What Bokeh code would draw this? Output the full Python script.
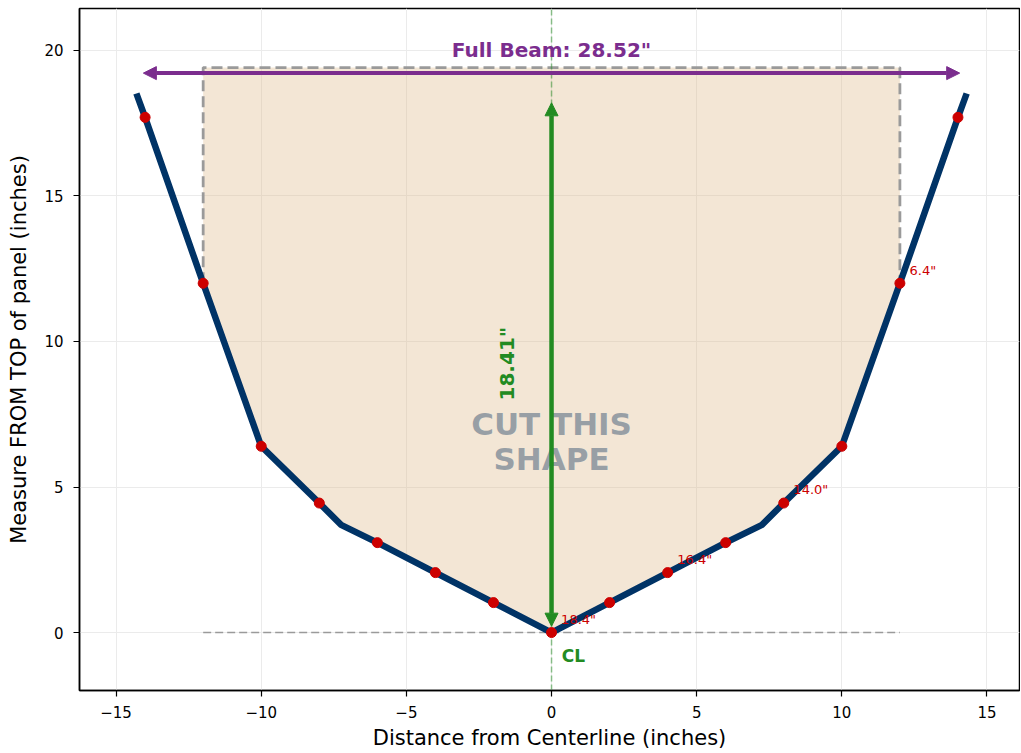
from bokeh.plotting import figure
from bokeh.models import Range1d, Arrow, NormalHead, FixedTicker
from bokeh.core.properties import value
from bokeh.embed import file_html
from bokeh.resources import INLINE

# ---------------- data ----------------
# hull profile (right half), inches: distance from centerline vs height from keel
hull_x = [0.0, 2.0, 4.0, 6.0, 7.25, 8.0, 10.0, 12.0, 14.0, 14.3]
hull_y = [0.0, 1.03, 2.06, 3.09, 3.70, 4.45, 6.40, 12.0, 17.70, 18.52]

# measurement stations (red dots, right half)
station_x = [0.0, 2.0, 4.0, 6.0, 8.0, 10.0, 12.0, 14.0]
station_y = [0.0, 1.03, 2.06, 3.09, 4.45, 6.40, 12.0, 17.70]

# labelled stations: "measure from top of panel"
label_x = [0.0, 4.0, 8.0, 12.0]
label_y = [0.0, 2.06, 4.45, 12.0]
label_txt = ['18.4"', '16.4"', '14.0"', '6.4"']

panel_half = 12.0
panel_top = 19.41
depth = 18.41
beam = 28.52

x_ticks = [-15, -10, -5, 0, 5, 10, 15]
x_tick_labels = ["\u221215", "\u221210", "\u22125", "0", "5", "10", "15"]
y_ticks = [0, 5, 10, 15, 20]

# ---------------- colours ----------------
NAVY = "#003366"
RED = "#cc0000"
PURPLE = "#7b2d8e"
GREEN = "#228b22"
GRAY = "#9a9a9a"
FONT = value("DejaVu Sans")

X0, X1 = -16.26, 16.12
Y0, Y1 = -1.99, 21.44

p = figure(width=1020, height=752, output_backend="svg", toolbar_location=None,
           x_range=Range1d(X0, X1), y_range=Range1d(Y0, Y1),
           min_border_left=79, min_border_right=1, min_border_top=8, min_border_bottom=62)

p.background_fill_color = "white"
p.border_fill_color = "white"
p.outline_line_color = "black"
p.outline_line_width = 1.5
p.xgrid.grid_line_color = "#ebebeb"
p.ygrid.grid_line_color = "#ebebeb"
p.xgrid.grid_line_width = 1
p.ygrid.grid_line_width = 1

p.xaxis.ticker = FixedTicker(ticks=x_ticks)
p.xaxis.major_label_overrides = {t: l for t, l in zip(x_ticks, x_tick_labels)}
p.yaxis.ticker = FixedTicker(ticks=y_ticks)
for ax in (p.xaxis, p.yaxis):
    ax.axis_line_color = "black"
    ax.axis_line_width = 1.5
    ax.major_tick_line_color = "black"
    ax.major_tick_line_width = 1.2
    ax.major_tick_out = 6
    ax.major_tick_in = 0
    ax.minor_tick_line_color = None
    ax.major_label_text_font = "DejaVu Sans"
    ax.major_label_text_font_size = "15px"
    ax.major_label_text_color = "black"
    ax.axis_label_text_font = "DejaVu Sans"
    ax.axis_label_text_font_size = "21px"
    ax.axis_label_text_font_style = "normal"
    ax.axis_label_text_color = "black"
p.xaxis.axis_label = "Distance from Centerline (inches)"
p.yaxis.axis_label = "Measure FROM TOP of panel (inches)"
p.xaxis.major_label_standoff = 9
p.yaxis.major_label_standoff = 10
p.xaxis.axis_label_standoff = 5
p.yaxis.axis_label_standoff = 10

# ---------------- shape fill ----------------
inner = [(x, y) for x, y in zip(hull_x, hull_y) if x <= panel_half]
fill_x = [-x for x, y in reversed(inner)] + [x for x, y in inner[1:]] + [panel_half, -panel_half]
fill_y = [y for x, y in reversed(inner)] + [y for x, y in inner[1:]] + [panel_top, panel_top]
p.patch(fill_x, fill_y, fill_color="#deb887", fill_alpha=0.35, line_color=None)

# gray dashed panel outline
yp = inner[-1][1]
p.line([-panel_half, -panel_half, panel_half, panel_half], [yp, panel_top, panel_top, yp],
       line_color=GRAY, line_width=2.8, line_dash="11 5")
# keel reference dashed line
p.line([-panel_half, panel_half], [0, 0], line_color=GRAY, line_width=1.5, line_dash="8 4")
# centerline
p.line([0, 0], [Y0, Y1], line_color=GREEN, line_alpha=0.5, line_width=1.5, line_dash="6 3")

# hull outline
full_x = [-x for x in reversed(hull_x)] + hull_x[1:]
full_y = list(reversed(hull_y)) + hull_y[1:]
p.line(full_x, full_y, line_color=NAVY, line_width=6.5, line_join="miter")

# stations
dots_x = [-x for x in reversed(station_x)] + station_x[1:]
dots_y = list(reversed(station_y)) + station_y[1:]
p.scatter(dots_x, dots_y, size=10, fill_color=RED, line_color=RED)

# station labels
p.text(x=[x + 0.33 for x in label_x], y=[y + 0.45 for y in label_y], text=label_txt,
       text_font=FONT, text_font_size="13px", text_color=RED,
       text_align="left", text_baseline="middle")

# big gray text
p.text(x=[0], y=[6.55], text=["CUT THIS\nSHAPE"], text_font=FONT, text_font_size="31px",
       text_font_style="bold", text_color="#708090", text_alpha=0.7,
       text_align="center", text_baseline="middle", text_line_height=0.97)

# beam arrow
p.add_layout(Arrow(start=NormalHead(size=13, fill_color=PURPLE, line_color=PURPLE, line_width=1),
                   end=NormalHead(size=13, fill_color=PURPLE, line_color=PURPLE, line_width=1),
                   x_start=-beam / 2 + 0.2, y_start=panel_top - 0.19,
                   x_end=beam / 2 - 0.2, y_end=panel_top - 0.19,
                   line_color=PURPLE, line_width=4))
p.text(x=[0], y=[20.02], text=['Full Beam: %.2f"' % beam], text_font=FONT, text_font_size="20px",
       text_font_style="bold", text_color=PURPLE, text_align="center", text_baseline="middle")

# depth arrow
p.add_layout(Arrow(start=NormalHead(size=13, fill_color=GREEN, line_color=GREEN, line_width=1),
                   end=NormalHead(size=13, fill_color=GREEN, line_color=GREEN, line_width=1),
                   x_start=0, y_start=0.22, x_end=0, y_end=depth - 0.21,
                   line_color=GREEN, line_width=4.5))
p.text(x=[-1.53], y=[9.24], text=['%.2f"' % depth], text_font=FONT, text_font_size="20px",
       text_font_style="bold", text_color=GREEN, text_align="center", text_baseline="middle",
       angle=1.5707963)

p.text(x=[0.35], y=[-0.8], text=["CL"], text_font=FONT, text_font_size="17px",
       text_font_style="bold", text_color=GREEN, text_align="left", text_baseline="middle")

open("out.html", "w").write(file_html(p, INLINE))
